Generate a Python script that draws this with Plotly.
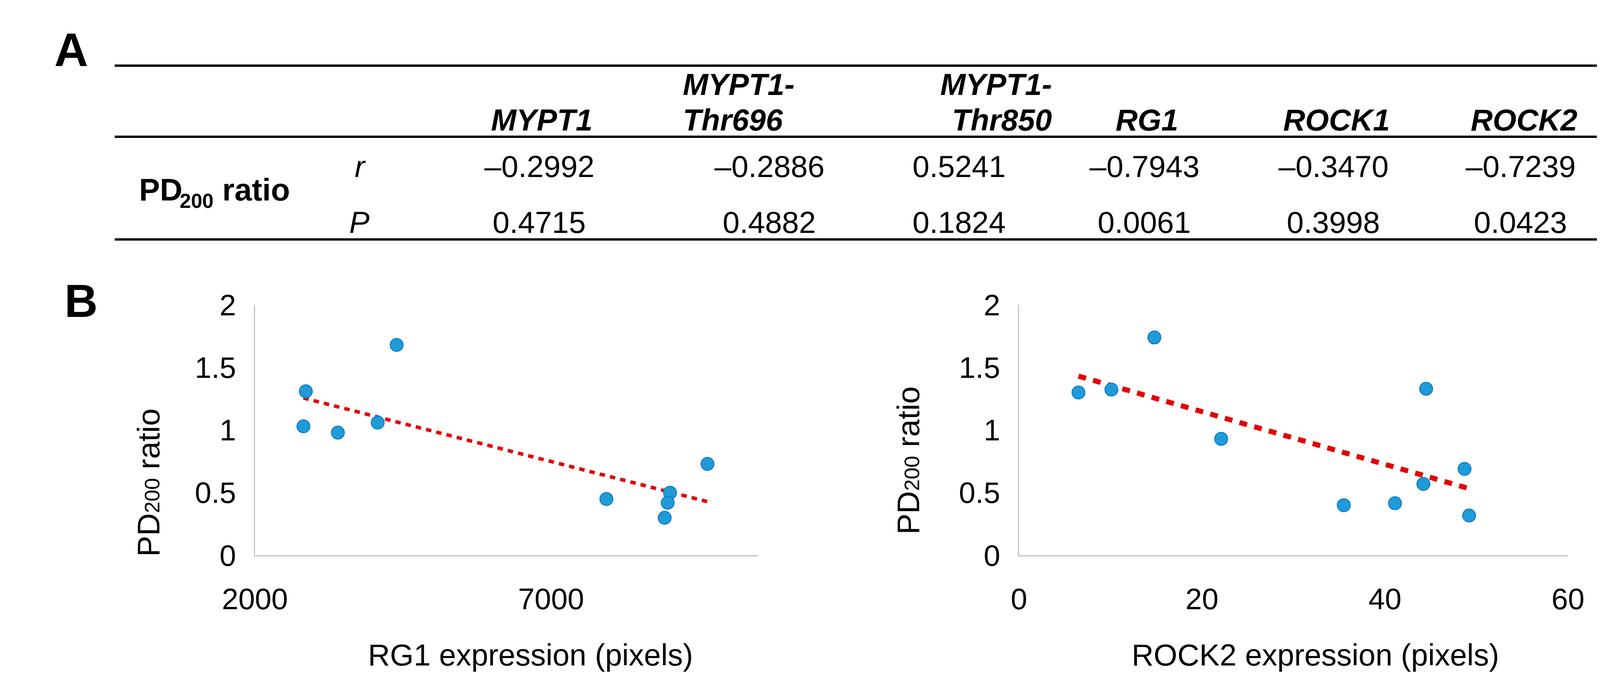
import numpy as np
import plotly.graph_objects as go

W, H = 4205, 1776
FONT = "Liberation Sans, Arial, sans-serif"

# ---------------- data ----------------
columns_line1 = ["", "MYPT1-", "MYPT1-", "", "", ""]
columns_line2 = ["MYPT1", "Thr696", "Thr850", "RG1", "ROCK1", "ROCK2"]
r_values = ["–0.2992", "–0.2886", "0.5241", "–0.7943", "–0.3470", "–0.7239"]
p_values = ["0.4715", "0.4882", "0.1824", "0.0061", "0.3998", "0.0423"]

rg1_x = [2860, 2819, 3401, 4073, 4393, 7934, 9008, 8969, 8918, 9641]
rg1_y = [1.31, 1.03, 0.98, 1.06, 1.68, 0.45, 0.50, 0.42, 0.30, 0.73]

rock2_x = [6.5, 10.1, 14.8, 22.1, 35.5, 41.1, 44.2, 44.5, 48.7, 49.2]
rock2_y = [1.30, 1.324, 1.74, 0.93, 0.40, 0.416, 0.57, 1.33, 0.69, 0.318]

y_ticks = [0, 0.5, 1, 1.5, 2]
y_tick_text = ["0", "0.5", "1", "1.5", "2"]
rg1_ticks = [2000, 7000]
rock2_ticks = [0, 20, 40, 60]


def px(x):
    return x / W


def py(y):
    return 1 - y / H


def trend(xs, ys):
    xs = np.asarray(xs, float)
    ys = np.asarray(ys, float)
    k, b = np.polyfit(xs, ys, 1)
    xx = np.array([xs.min(), xs.max()])
    return xx, k * xx + b


fig = go.Figure()

marker = dict(size=33, color="#1F9BD8", line=dict(color="#0B7BC8", width=2.5))

tx, ty = trend(rg1_x, rg1_y)
fig.add_trace(go.Scatter(x=tx, y=ty, mode="lines", xaxis="x", yaxis="y",
                         line=dict(color="#E30000", width=9, dash="14px,13px"),
                         showlegend=False, hoverinfo="skip"))
fig.add_trace(go.Scatter(x=rg1_x, y=rg1_y, mode="markers", xaxis="x", yaxis="y",
                         marker=marker, showlegend=False))

tx2, ty2 = trend(rock2_x, rock2_y)
fig.add_trace(go.Scatter(x=tx2, y=ty2, mode="lines", xaxis="x2", yaxis="y2",
                         line=dict(color="#E30000", width=13, dash="20px,19px"),
                         showlegend=False, hoverinfo="skip"))
fig.add_trace(go.Scatter(x=rock2_x, y=rock2_y, mode="markers", xaxis="x2", yaxis="y2",
                         marker=marker, showlegend=False))

AX_COLOR = "#C4C4C4"
tickfont = dict(family=FONT, size=76, color="#000000")
ydom = [py(1440), py(767)]

common_x = dict(showgrid=False, zeroline=False, showline=True, linecolor=AX_COLOR,
                linewidth=3, ticks="", tickfont=tickfont, ticklabelstandoff=44)
common_y = dict(showgrid=False, zeroline=False, showline=True, linecolor=AX_COLOR,
                linewidth=3, ticks="", tickfont=tickfont, range=[0, 2],
                tickvals=y_ticks, ticktext=y_tick_text, ticklabelstandoff=30)

fig.update_layout(
    xaxis=dict(domain=[px(577), px(1906)], range=[2000, 10500], tickvals=rg1_ticks,
               anchor="y", **common_x),
    yaxis=dict(domain=ydom, anchor="x", **common_y),
    xaxis2=dict(domain=[px(2594), px(4043)], range=[0, 60], tickvals=rock2_ticks,
                anchor="y2", **common_x),
    yaxis2=dict(domain=ydom, anchor="x2", **common_y),
)

ann = []


def text(x, y, s, size=78, bold=False, italic=False, xanchor="center", angle=0):
    t = s
    if italic:
        t = "<i>" + t + "</i>"
    if bold:
        t = "<b>" + t + "</b>"
    ann.append(dict(x=px(x), y=py(y), xref="paper", yref="paper", text=t,
                    showarrow=False, xanchor=xanchor, yanchor="middle",
                    textangle=angle,
                    font=dict(family=FONT, size=size, color="#000000")))


# panel letters
text(45, 81, "A", size=120, bold=True, xanchor="left")
text(72, 756, "B", size=118, bold=True, xanchor="left")

# table lines
for yl in (124, 315, 591):
    fig.add_shape(type="line", xref="paper", yref="paper",
                  x0=px(207), x1=px(4171), y0=py(yl), y1=py(yl),
                  line=dict(color="#000000", width=6))

# headers: (anchor, x) per column
head_pos = [("center", 1334), ("left", 1704), ("right", 2683),
            ("center", 2932), ("center", 3432), ("center", 3927)]
val_x = [1328, 1935, 2436, 2925, 3424, 3918]
for i, (anc, hx) in enumerate(head_pos):
    if columns_line1[i]:
        text(hx, 174, columns_line1[i], bold=True, italic=True, xanchor=anc)
    text(hx, 270, columns_line2[i], bold=True, italic=True, xanchor=anc)
    text(val_x[i], 395, r_values[i])
    text(val_x[i], 545, p_values[i])

# row label "PD200 ratio" with a lowered subscript
text(269, 457, "PD", size=80, bold=True, xanchor="left")
text(376, 487, "200", size=52, bold=True, xanchor="left")
text(489, 457, "ratio", size=80, bold=True, xanchor="left")
text(855, 395, "r", italic=True)
text(853, 545, "P", italic=True)

# axis titles
sub_small = '<span style="font-size:54px">200</span>'
text(1304, 1708, "RG1 expression (pixels)")
text(3376, 1708, "ROCK2 expression (pixels)")
text(296, 1245, "PD" + sub_small + " ratio", size=80, angle=-90)
text(2302, 1185, "PD" + sub_small + " ratio", size=80, angle=-90)

fig.update_layout(
    annotations=ann,
    width=W, height=H,
    margin=dict(l=0, r=0, t=0, b=0),
    paper_bgcolor="#FFFFFF", plot_bgcolor="#FFFFFF",
    showlegend=False,
    font=dict(family=FONT),
)

fig.write_html("out.html")
